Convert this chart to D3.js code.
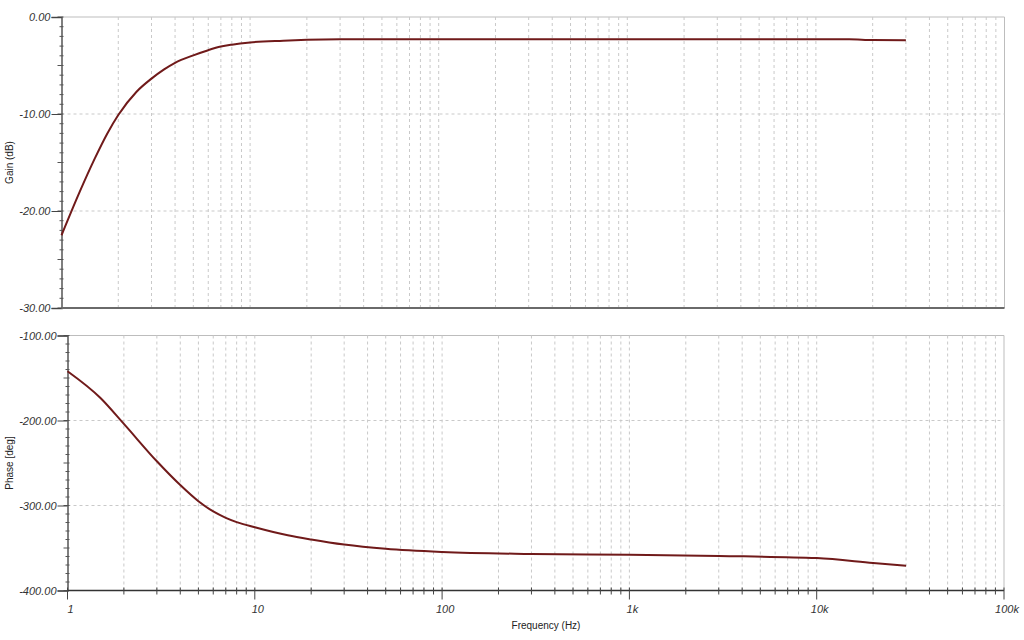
<!DOCTYPE html>
<html>
<head>
<meta charset="utf-8">
<script src="https://cdn.jsdelivr.net/npm/d3@7/dist/d3.min.js"></script>
<style>
  html, body { margin: 0; padding: 0; background: #fff; }
  svg { display: block; }
  text { font-family: "Liberation Sans", Arial, sans-serif; }
</style>
</head>
<body>
<svg id="chart" width="1024" height="640"></svg>
<script>
// ---- data ----
const gainFreq  = [1, 1.25, 1.5, 1.75, 2, 2.5, 3, 3.5, 4, 5, 6, 7, 8, 10, 15, 20, 30, 100, 1000, 10000, 15000, 20000, 30000];
const gainDb    = [-22.5, -18.0, -14.6, -12.0, -10.1, -7.7, -6.35, -5.4, -4.72, -3.95, -3.42, -3.05, -2.85, -2.62, -2.44, -2.35, -2.3, -2.3, -2.3, -2.3, -2.3, -2.38, -2.4];
const phaseFreq = [1, 1.5, 2, 3, 4, 5, 6, 7, 8, 10, 15, 20, 30, 50, 100, 300, 1000, 3000, 10000, 20000, 30000];
const phaseDeg  = [-142, -173.5, -204, -248, -276, -295, -307, -314.5, -319.5, -325.5, -335, -340, -346, -351, -354.7, -357, -358, -359.4, -361.8, -367.6, -371];
const xTickValues = [1, 10, 100, 1000, 10000, 100000];
const xTickLabels = ["1", "10", "100", "1k", "10k", "100k"];
const gainTicks  = [0, -10, -20, -30];
const phaseTicks = [-100, -200, -300, -400];
const gainTitle = "Gain (dB)";
const phaseTitle = "Phase [deg]";
const xTitle = "Frequency (Hz)";

const svg = d3.select("#chart");
const lineColor = "#701a1a";
const gridColor = "#c9c9c9";
const axisColor = "#555";

// minor log positions
const minorFreqs = [];
for (let e = 0; e < 5; e++) for (let m = 1; m <= 9; m++) minorFreqs.push(m * Math.pow(10, e));
minorFreqs.push(100000);

function panel(cfg) {
  const x = d3.scaleLog().domain([1, 100000]).range([cfg.x0, cfg.x1]);
  const y = d3.scaleLinear().domain(cfg.yDomain).range([cfg.y0, cfg.y1]);
  const g = svg.append("g");

  // frame (top + right)
  g.append("line").attr("x1", cfg.x0).attr("x2", cfg.x1).attr("y1", cfg.y0).attr("y2", cfg.y0)
    .attr("stroke", "#bdbdbd").attr("stroke-width", 1);
  g.append("line").attr("x1", cfg.x1).attr("x2", cfg.x1).attr("y1", cfg.y0).attr("y2", cfg.y1)
    .attr("stroke", "#bdbdbd").attr("stroke-width", 1);

  // vertical grid
  g.selectAll(".vg").data(minorFreqs.filter(f => f > 1 && f < 100000)).enter().append("line")
    .attr("x1", d => x(d)).attr("x2", d => x(d))
    .attr("y1", cfg.y0).attr("y2", cfg.y1)
    .attr("stroke", gridColor).attr("stroke-width", 1).attr("stroke-dasharray", "3,3");

  // horizontal grid
  g.selectAll(".hg").data(cfg.ticks.slice(1, -1)).enter().append("line")
    .attr("x1", cfg.x0).attr("x2", cfg.x1)
    .attr("y1", d => y(d)).attr("y2", d => y(d))
    .attr("stroke", gridColor).attr("stroke-width", 1).attr("stroke-dasharray", "3,3");

  // y minor ticks
  const [ya, yb] = cfg.yDomain;
  const minors = d3.range(ya, yb - 1e-9, -cfg.minorStep);
  g.selectAll(".ym").data(minors).enter().append("line")
    .attr("x1", (d, i) => cfg.x0 - ((i % 5 === 0) ? 4 : 2)).attr("x2", cfg.x0 + 2)
    .attr("y1", d => y(d)).attr("y2", d => y(d))
    .attr("stroke", axisColor).attr("stroke-width", 1);

  // y axis using d3 axis
  const yAxis = d3.axisLeft(y).tickValues(cfg.ticks).tickSize(10).tickPadding(1)
    .tickFormat(d3.format(".2f"));
  const ga = g.append("g").attr("transform", `translate(${cfg.x0},0)`).call(yAxis);
  ga.select(".domain").attr("stroke", axisColor).attr("stroke-width", 1.5);
  ga.selectAll(".tick line").attr("stroke", "#444");
  ga.selectAll(".tick text").attr("font-size", 11).attr("font-style", "italic")
    .attr("fill", "#333").attr("font-family", "Liberation Sans, Arial, sans-serif")
    .text(d => d3.format(".2f")(d).replace("−", "-"));

  // bottom axis line
  g.append("line").attr("x1", cfg.x0).attr("x2", cfg.x1).attr("y1", cfg.y1).attr("y2", cfg.y1)
    .attr("stroke", cfg.showX ? "#333" : "#6a6a6a").attr("stroke-width", cfg.showX ? 1.5 : 2);

  if (cfg.showX) {
    g.selectAll(".xm").data(minorFreqs).enter().append("line")
      .attr("x1", d => x(d)).attr("x2", d => x(d))
      .attr("y1", cfg.y1 - 3)
      .attr("y2", d => xTickValues.includes(d) ? cfg.y1 + 9 : cfg.y1 + 4)
      .attr("stroke", "#444").attr("stroke-width", 1);
    g.selectAll(".xl").data(xTickValues).enter().append("text")
      .attr("x", d => x(d) + 3).attr("y", cfg.y1 + 22)
      .attr("text-anchor", "middle").attr("font-size", 11).attr("font-style", "italic")
      .attr("fill", "#333")
      .text((d, i) => xTickLabels[i]);
    g.append("text").attr("x", 546).attr("y", cfg.y1 + 38)
      .attr("text-anchor", "middle").attr("font-size", 10).attr("fill", "#222")
      .text(xTitle);
  }

  // y title
  g.append("text")
    .attr("transform", `translate(13,${(cfg.y0 + cfg.y1) / 2}) rotate(-90)`)
    .attr("text-anchor", "middle").attr("font-size", 10).attr("fill", "#222")
    .text(cfg.title);

  // curve
  const line = d3.line().x(d => x(d[0])).y(d => y(d[1])).curve(d3.curveMonotoneX);
  g.append("path").datum(cfg.freq.map((f, i) => [f, cfg.vals[i]]))
    .attr("d", line).attr("fill", "none").attr("stroke", lineColor).attr("stroke-width", 2);
}

panel({ x0: 61.5, x1: 1004.5, y0: 17, y1: 308, yDomain: [0, -30], ticks: gainTicks,
        minorStep: 1, title: gainTitle, freq: gainFreq, vals: gainDb, showX: false });
panel({ x0: 67.5, x1: 1004, y0: 335.5, y1: 590.5, yDomain: [-100, -400], ticks: phaseTicks,
        minorStep: 10, title: phaseTitle, freq: phaseFreq, vals: phaseDeg, showX: true });
</script>
</body>
</html>
